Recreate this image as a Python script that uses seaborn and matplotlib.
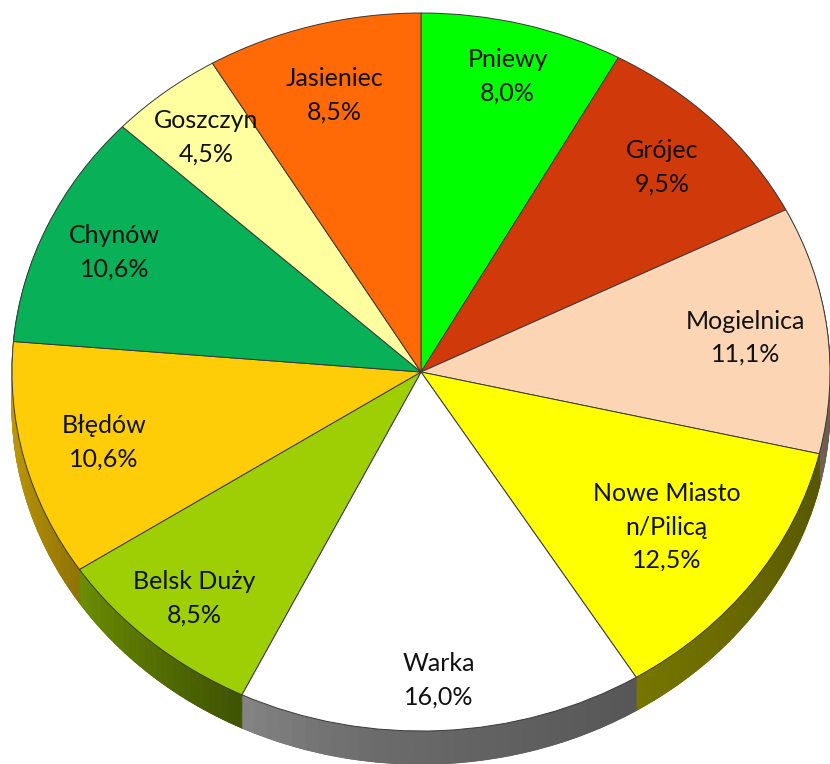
import numpy as np
import matplotlib
matplotlib.use("Agg")
import matplotlib.pyplot as plt
import seaborn as sns
from matplotlib.colors import to_rgb

# ---- data ----
towns = ["Pniewy", "Grójec", "Mogielnica", "Nowe Miasto\nn/Pilicą", "Warka",
         "Belsk Duży", "Błędów", "Chynów", "Goszczyn", "Jasieniec"]
shares = [8.0, 9.5, 11.1, 12.5, 16.0, 8.5, 10.6, 10.6, 4.5, 8.5]
pct_labels = ["8,0%", "9,5%", "11,1%", "12,5%", "16,0%",
              "8,5%", "10,6%", "10,6%", "4,5%", "8,5%"]
colors = ["#00FF00", "#D0390A", "#FCD5B5", "#FFFF00", "#FFFFFF",
          "#9ECF04", "#FFCC08", "#08B058", "#FFFFA0", "#FF6A06"]

# ---- style / layout ----
label_r = [0.85, 0.82, 0.80, 0.74, 0.86, 0.84, 0.80, 0.82, 0.84, 0.80]
sns.set_theme(style="white")
plt.rcParams["font.family"] = ["Lato", "DejaVu Sans"]

W, H = 830, 764
cx, cy, rx, ry, depth = 421, 372, 409, 359, 33
edge = "#3a3a3a"

fig = plt.figure(figsize=(W / 100, H / 100), dpi=100)
ax = fig.add_axes([0, 0, 1, 1])

d = depth / ry
nsub = 30


def shade(rgb, f):
    return tuple(min(1.0, max(0.0, c * f)) for c in rgb)


# side (extruded) surface built from sub-slices of every share
side_vals, side_cols = [], []
total = sum(shares)
start = 90.0
for v, c in zip(shares, colors):
    rgb = to_rgb(c)
    span = 360.0 * v / total
    for j in range(nsub):
        s = (j + 0.5) / nsub
        ang = np.deg2rad(start - span * s)
        base = 0.38 + 0.32 * max(0.0, -np.cos(ang)) ** 2
        f = base - 0.04 + 0.12 * s
        side_vals.append(v / nsub)
        side_cols.append(shade(rgb, f))
    start -= span

nlay = 34
for k in range(nlay, 0, -1):
    off = -d * k / nlay
    wedges, _ = ax.pie(side_vals, startangle=90, counterclock=False,
                       colors=side_cols, center=(0, off),
                       wedgeprops=dict(linewidth=0.8))
    for w in wedges:
        w.set_edgecolor(w.get_facecolor())
        if k == nlay:
            w.set_linewidth(1.0)

# outline of the bottom rim
outline, _ = ax.pie(shares, startangle=90, counterclock=False,
                    center=(0, -d), wedgeprops=dict(fill=False,
                                                    edgecolor=edge,
                                                    linewidth=0.7))
for w in outline:
    w.set_zorder(0.4)

# top surface
wedges, _ = ax.pie(shares, startangle=90, counterclock=False, colors=colors,
                   wedgeprops=dict(edgecolor=edge, linewidth=0.7))

# vertical separators on the side at slice boundaries
for w in wedges:
    for th in (w.theta1, w.theta2):
        t = np.deg2rad(th)
        if np.sin(t) < -0.02:
            ax.plot([np.cos(t), np.cos(t)], [np.sin(t), np.sin(t) - d],
                    color=edge, lw=0.7, zorder=0.5)

# labels
for w, name, pct, r in zip(wedges, towns, pct_labels, label_r):
    t = np.deg2rad((w.theta1 + w.theta2) / 2)
    ax.text(r * np.cos(t), r * np.sin(t), f"{name}\n{pct}", ha="center",
            va="center", fontsize=18, color="#111111", linespacing=1.55)

ax.set_aspect("auto")
ax.set_xlim(-cx / rx, (W - cx) / rx)
ax.set_ylim(-(H - cy) / ry, cy / ry)
ax.axis("off")
fig.savefig("out.png", dpi=100, facecolor="white")
